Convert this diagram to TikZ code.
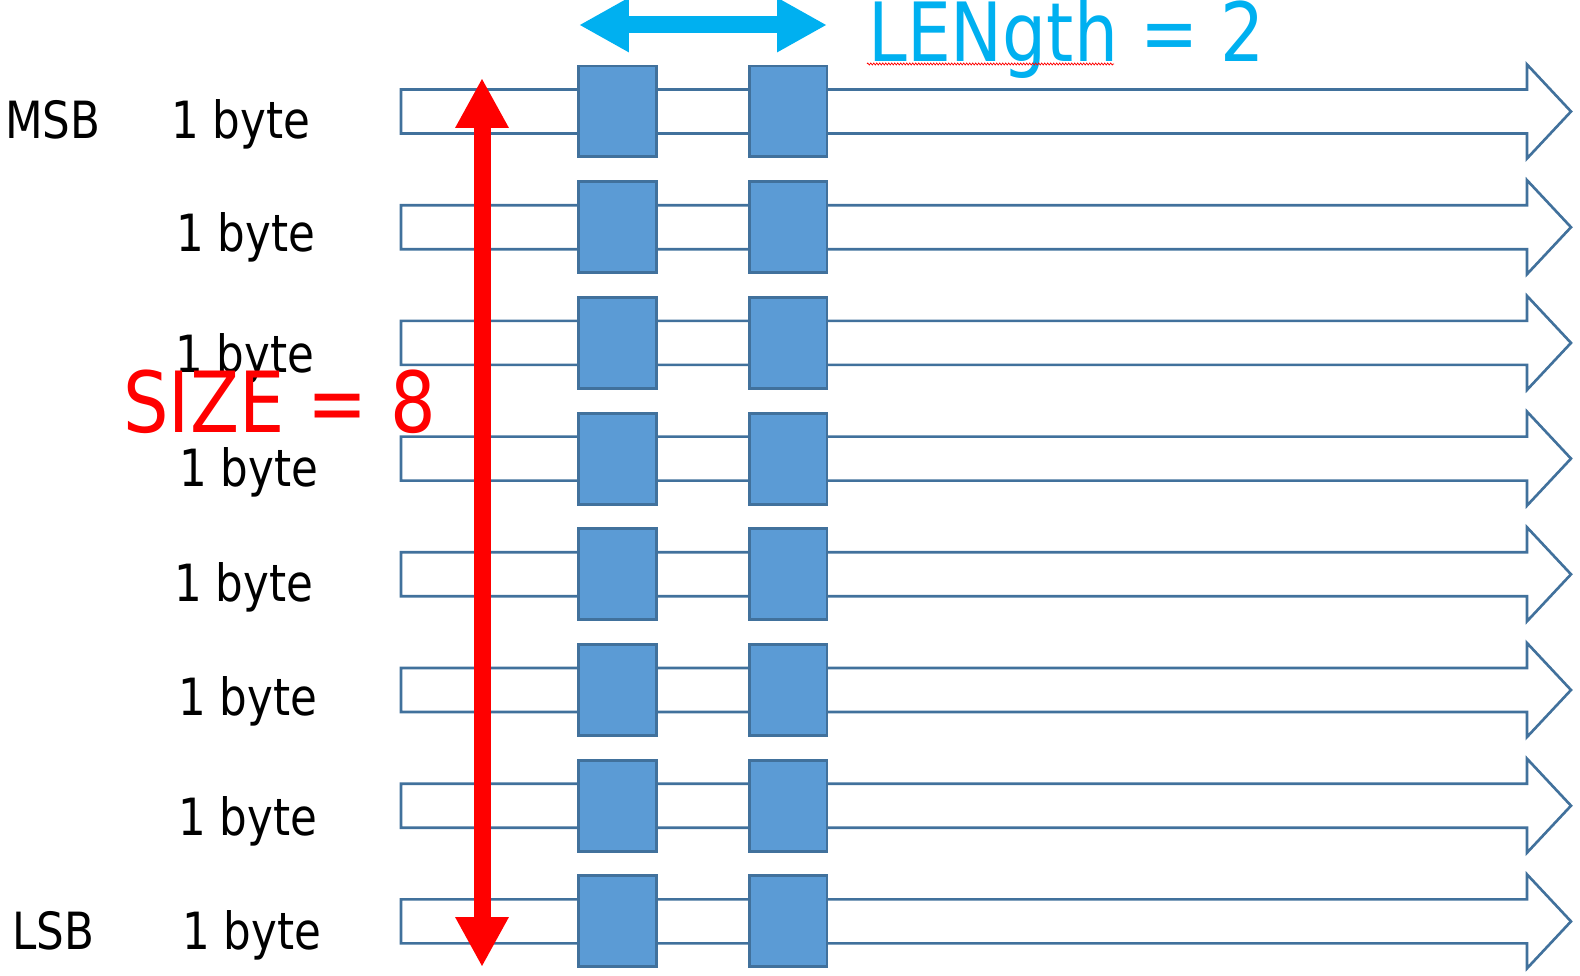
\documentclass[tikz,border=0pt]{standalone}
\usepackage{fontspec}
\setmainfont{DejaVu Sans}[FakeStretch=0.85]
\usetikzlibrary{arrows.meta,decorations.pathmorphing}
\definecolor{boxFill}{RGB}{91,155,213}
\definecolor{boxLine}{RGB}{65,113,156}
\definecolor{lenCyan}{RGB}{0,176,240}

\begin{document}
\begin{tikzpicture}[x=0.02cm,y=-0.02cm]
\tikzstyle{byteArrowStyle}=[draw=boxLine, fill=white, line width=1.5pt]
\tikzstyle{byteBoxStyle}=[shape=rectangle, draw=boxLine, fill=boxFill, line width=1.7pt, minimum width=1.56cm, minimum height=1.82cm, inner sep=0pt, outer sep=0pt]
\tikzstyle{byteLabelStyle}=[anchor=base west, inner sep=0pt, font=\fontsize{29.2pt}{35pt}\selectfont]
\tikzstyle{bigLabelStyle}=[anchor=base west, inner sep=0pt, font=\fontsize{46.5pt}{55pt}\selectfont]
\tikzstyle{sizeArrowStyle}=[draw=red, line width=0.34cm, {Triangle[length=1cm,width=1cm]}-{Triangle[length=1cm,width=1cm]}]
\tikzstyle{lenArrowStyle}=[draw=lenCyan, line width=0.34cm, {Triangle[length=1cm,width=1.02cm]}-{Triangle[length=1cm,width=1.02cm]}]
\useasboundingbox (0,0) rectangle (1580,976);
% one row per byte
\foreach \i/\lx/\ly in {1/171/139, 2/176/252, 3/175/373, 4/179/487, 5/174/602, 6/178/715, 7/178/835, 8/182/949} {
  \pgfmathsetmacro\rowy{111.5+115.7*(\i-1)}
  \draw[byteArrowStyle] (401,\rowy-22) -- (1527,\rowy-22) -- (1527,\rowy-47) -- (1571,\rowy)
    -- (1527,\rowy+47) -- (1527,\rowy+22) -- (401,\rowy+22) -- cycle;
  \node[byteBoxStyle] (box\i a) at (617.5,\rowy) {};
  \node[byteBoxStyle] (box\i b) at (788,\rowy) {};
  \node[byteLabelStyle] (byte\i) at (\lx,\ly) {1 byte};
}
\node[byteLabelStyle] (msb) at (5,139) {MSB};
\node[byteLabelStyle] (lsb) at (12,949) {LSB};
% size and length
\node[bigLabelStyle, text=red, font=\fontsize{48pt}{56pt}\selectfont] (size) at (123,433) {SIZE = 8};
\coordinate (sizeTop) at (482,78);
\coordinate (sizeBot) at (482,967);
\draw[sizeArrowStyle] (sizeTop) -- (sizeBot);
\coordinate (lenLeft) at (579,25);
\coordinate (lenRight) at (827,25);
\draw[lenArrowStyle] (lenLeft) -- (lenRight);
\node[bigLabelStyle, text=lenCyan] (len) at (868,62) {LENgth = 2};
\coordinate (wavyLeft) at (867,64);
\coordinate (wavyRight) at (1114,64);
\draw[red, line width=0.4pt, decorate, decoration={zigzag, segment length=0.06cm, amplitude=0.02cm}] (wavyLeft) -- (wavyRight);
\end{tikzpicture}
\end{document}
